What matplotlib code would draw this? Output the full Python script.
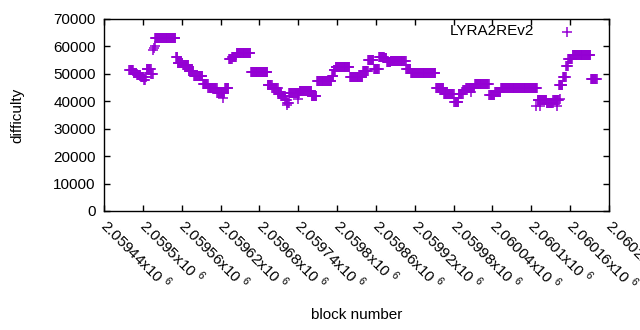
import matplotlib
matplotlib.use("Agg")
import matplotlib.pyplot as plt
import numpy as np

plt.rcParams['font.family'] = ['Liberation Sans', 'DejaVu Sans']
plt.rcParams['mathtext.fontset'] = 'custom'
plt.rcParams['mathtext.rm'] = 'Liberation Sans'

BASE = 2059440
# run-length encoded difficulty: segment start (block offset from BASE) and value
seg_start = [39, 46, 51, 57, 62, 64, 66, 73, 76, 77, 78, 79, 80, 111, 114, 122, 131, 139,
             153, 161, 175, 187, 193, 198, 205, 227, 253, 260, 269, 275, 280, 283, 286,
             302, 321, 329, 352, 355, 358, 380, 400, 408, 417, 425, 433, 437, 443, 467,
             474, 513, 525, 541, 548, 555, 559, 573, 595, 604, 613, 670, 684, 694, 703,
             709, 714, 717, 724, 752]
seg_value = [51300, 50400, 49700, 48700, 47800, 48700, 51600, 50000, 58600, 59300, 60200,
             63000, 63200, 56000, 53800, 53100, 51000, 49100,
             46300, 45000, 43100, 45000, 55400, 56100, 57500, 50600, 45900, 45000, 42700,
             41900, 40500, 39200, 43000,
             43800, 41900, 47400, 49200, 51400, 52400, 48700, 50900, 54900, 51700, 56000,
             55600, 54300, 54600, 51800,
             50200, 44700, 42500, 39700, 42800, 44100, 45000, 46400, 42300, 43400, 45000,
             40500, 39400, 40500, 45900,
             48900, 52900, 55500, 56900, 48100]
seg_end = 762
# isolated points (block offset, difficulty)
out_block = [184, 282, 299, 567, 668, 673, 700, 704]
out_value = [41200, 38600, 40800, 43400, 38400, 38400, 38400, 41000]

xtick_values = [2059440 + 60 * k for k in range(14)]
xtick_labels = ["2.05944", "2.0595", "2.05956", "2.05962", "2.05968", "2.05974", "2.0598",
                "2.05986", "2.05992", "2.05998", "2.06004", "2.0601", "2.06016", "2.06022"]
ytick_values = [0, 10000, 20000, 30000, 40000, 50000, 60000, 70000]

blocks = []
vals = []
ends = seg_start[1:] + [seg_end]
for s, e, v in zip(seg_start, ends, seg_value):
    for b in range(s, e):
        blocks.append(BASE + b)
        vals.append(v)
blocks += [BASE + b for b in out_block]
vals += out_value

color = '#9400D3'
fig = plt.figure(figsize=(6.4, 3.3), dpi=100)
ax = fig.add_axes([104/640, 1 - 211/330, (609-104)/640, (211-19)/330])
ax.plot(blocks, vals, linestyle='none', marker='+', color=color,
        markersize=6.5, markeredgewidth=1.1)
ax.set_xlim(2059440, 2060220)
ax.set_ylim(0, 70000)
ax.set_yticks(ytick_values)
ax.set_yticklabels([str(v) for v in ytick_values], fontsize=11)
ax.set_xticks(xtick_values)
ax.set_xticklabels([s + r"x10 $^{\mathregular{6}}$" for s in xtick_labels], fontsize=11,
                   rotation=-45, ha='left', va='center', rotation_mode='anchor')
ax.tick_params(direction='in', length=4, width=1, top=True, right=True, pad=8)
ax.tick_params(axis='y', pad=6)
for sp in ax.spines.values():
    sp.set_linewidth(1)
fig.text(17/640, 1 - 115/330, 'difficulty', fontsize=11, ha='center', va='center',
         rotation=90)
fig.text(357/640, 1 - 315/330, 'block number', fontsize=11, ha='center', va='center')
# legend
fig.text(534/640, 1 - 31/330, 'LYRA2REv2', fontsize=11, ha='right', va='center')
ax.plot([(567-104)/505], [(211-32)/192], transform=ax.transAxes, marker='+',
        color=color, markersize=6.5, markeredgewidth=1.1, linestyle='none', clip_on=False)
fig.savefig('out.png', dpi=100)
